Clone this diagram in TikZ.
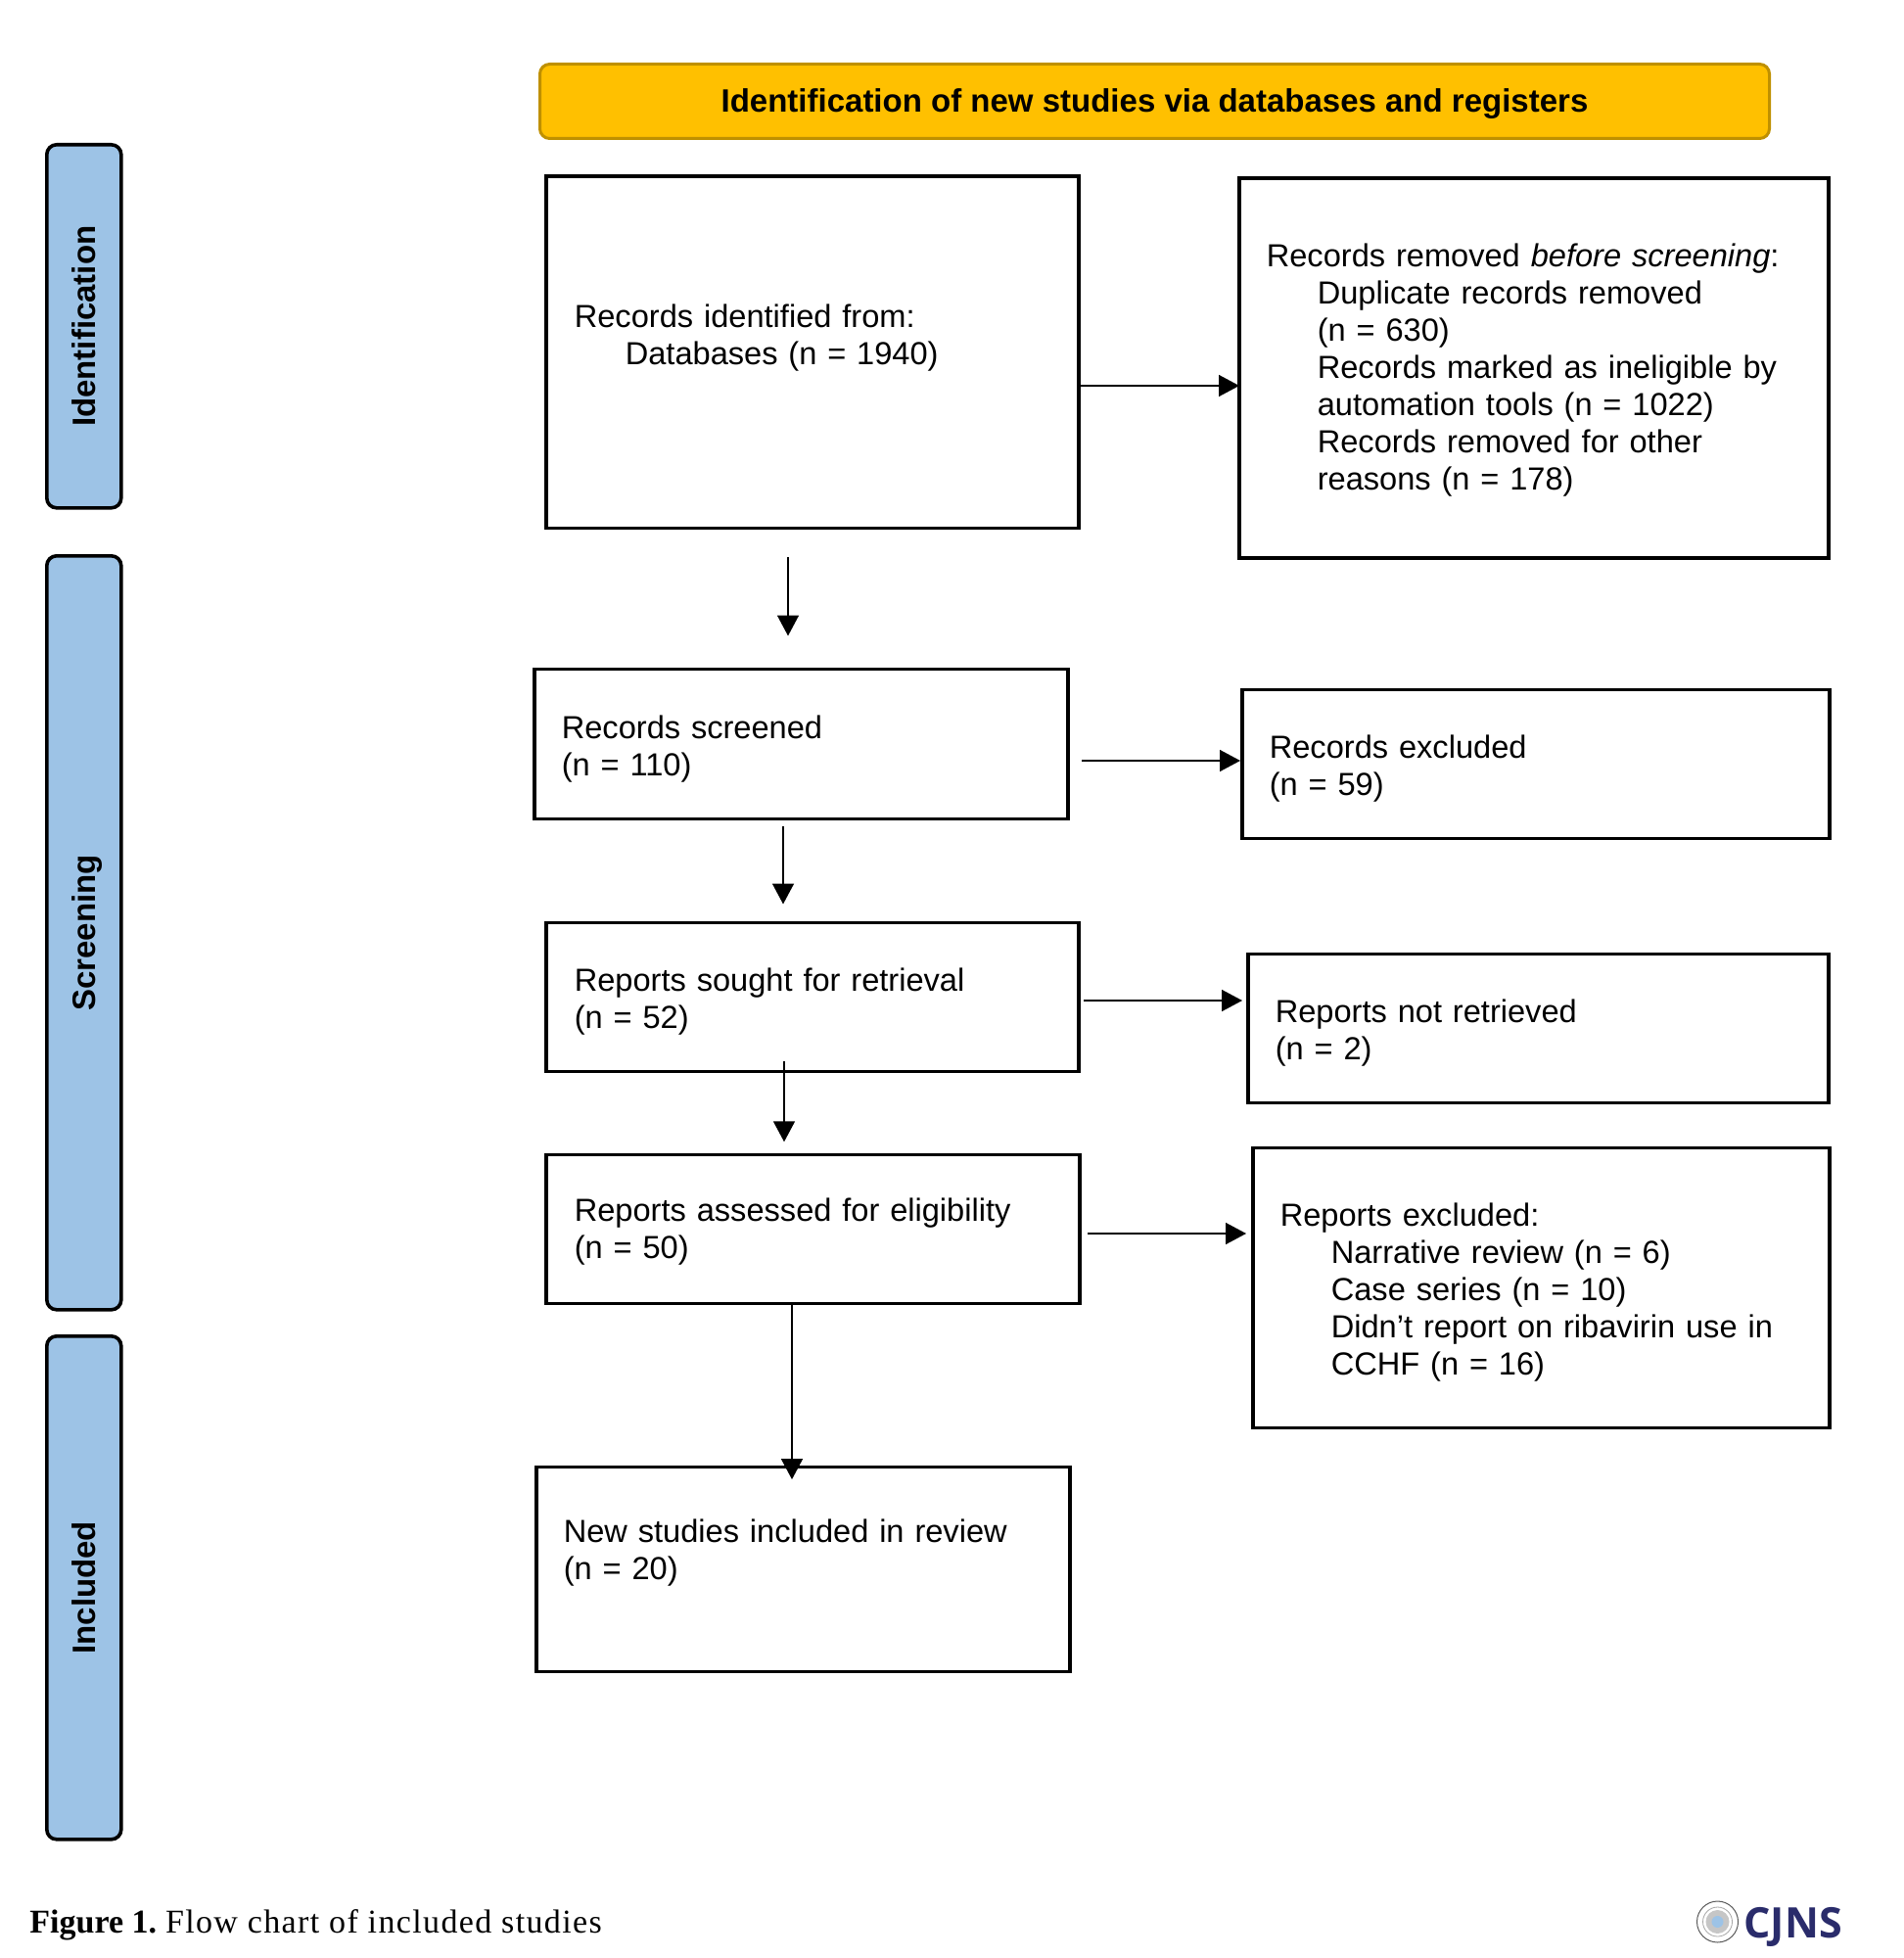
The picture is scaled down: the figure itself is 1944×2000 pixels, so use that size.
\documentclass[tikz,border=0pt]{standalone}
\usepackage{fontspec}
\setmainfont{Liberation Sans}
\newfontfamily\capfont[LetterSpace=4]{Liberation Serif}
\newfontfamily\logofont{Open Sans}
\usetikzlibrary{positioning, arrows.meta}
\definecolor{headfill}{HTML}{FFC000}
\definecolor{headline}{HTML}{BF9000}
\definecolor{sidefill}{HTML}{9DC3E6}
\definecolor{cjnsblue}{HTML}{2A2C6B}
\newcommand{\ind}{\hspace*{26pt}}
\tikzset{
  >={Triangle[length=10.5pt, width=11pt]},
  flow/.style={->, line width=.8pt}, % thin connector with a solid head
  recbox/.style={draw, line width=1.8pt, align=left, anchor=north west, inner sep=0pt, inner xsep=14pt,
    font=\fontsize{16.3}{19}\selectfont, execute at end node={\vspace{-2.5pt}}},
  sidebox/.style={draw, line width=1.8pt, rounded corners=5pt, fill=sidefill, anchor=north west, inner sep=0pt},
  sidetext/.style={rotate=90, text height=11.5pt, text depth=0pt, inner sep=0pt, font=\fontsize{16.5}{18}\selectfont\bfseries},
}

\begin{document}
\begin{tikzpicture}[x=.5pt, y=-.5pt]
      \useasboundingbox (0,0) rectangle (1944,2000);

      \node[draw=headline, fill=headfill, line width=1.5pt, rounded corners=5pt, anchor=north west, minimum width=628pt, minimum height=38pt, inner sep=0pt, font=\fontsize{16.5}{19}\selectfont\bfseries] (head) at (550,64) {\raisebox{-5.75pt}[0pt][0pt]{Identification of new studies via databases and registers}};

      \node[sidebox, minimum width=38pt, minimum height=185.5pt] (sideid) at (46,146) {};
      \node[sidebox, minimum width=38pt, minimum height=385pt] (sidescr) at (46,566) {};
      \node[sidebox, minimum width=38pt, minimum height=257pt] (sideinc) at (46,1363) {};
      \node[sidetext] at (sideid) {Identification};
      \node[sidetext] at (sidescr) {Screening};
      \node[sidetext] at (sideinc) {Included};

      \node[recbox, minimum width=272pt, minimum height=179.5pt, text width=243pt] (idbox) at (556,178.5) {Records identified from:\\ \ind Databases (n = 1940)\vspace{17.5pt}};
      \node[recbox, minimum width=301pt, minimum height=194pt, text width=273pt] (removed) at (1264,180) {Records removed \emph{before screening}:\\ \ind Duplicate records removed\\ \ind (n = 630)\\ \ind Records marked as ineligible by\\ \ind automation tools (n = 1022)\\ \ind Records removed for other\\ \ind reasons (n = 178)};
      \node[recbox, minimum width=272.5pt, minimum height=76.5pt, text width=244.5pt] (screened) at (544,681.5) {Records screened\\ (n = 110)\vspace{-2.5pt}};
      \node[recbox, minimum width=300pt, minimum height=76pt, text width=272pt] (excluded) at (1267,702.5) {Records excluded\\ (n = 59)\vspace{-2.5pt}};
      \node[recbox, minimum width=272pt, minimum height=76pt, text width=243pt] (sought) at (556,940.5) {Reports sought for retrieval\\ (n = 52)\vspace{-2pt}};
      \node[recbox, minimum width=296.5pt, minimum height=76pt, text width=268.5pt] (notretr) at (1273,972.5) {Reports not retrieved\\ (n = 2)\vspace{-2pt}};
      \node[recbox, minimum width=272.5pt, minimum height=76pt, text width=243.5pt] (assessed) at (556,1177.5) {Reports assessed for eligibility\\ (n = 50)};
      \node[recbox, minimum width=294.5pt, minimum height=143pt, text width=266.5pt] (repexcl) at (1278,1170.5) {Reports excluded:\\ \ind Narrative review (n = 6)\\ \ind Case series (n = 10)\\ \ind Didn’t report on ribavirin use in\\ \ind CCHF (n = 16)\vspace{-2pt}};
      \node[recbox, minimum width=272.5pt, minimum height=104.5pt, text width=244.5pt] (included) at (546,1496.5) {New studies included in review\\ (n = 20)\vspace{19pt}};

      \coordinate (downa) at (805,0);
      \coordinate (downb) at (800,0);
      \coordinate (downc) at (801,0);
      \coordinate (downd) at (809,0);

      \draw[flow, shorten >=-1pt] (idbox.east |- 0,394) -- (removed.west |- 0,394);
      \draw[flow] (1105,777) -- (excluded.west |- 0,777);
      \draw[flow, shorten >=2pt] (1107,1022) -- (notretr.west |- 0,1022);
      \draw[flow, shorten >=2.5pt] (1111,1260) -- (repexcl.west |- 0,1260);
      \draw[flow, shorten <=14pt, shorten >=16pt] (downa |- idbox.south) -- (downa |- screened.north);
      \draw[flow, shorten <=3pt, shorten >=8.5pt] (downb |- screened.south) -- (downb |- sought.north);
      \draw[flow, shorten <=-6pt, shorten >=5.6pt] (downc |- sought.south) -- (downc |- assessed.north);
      \draw[flow, shorten >=-7.3pt] (downd |- assessed.south) -- (downd |- included.north);

      \node[anchor=base west, inner sep=0pt, font=\capfont\fontsize{17}{19}\selectfont] (caption) at (30,1974) {{\bfseries\addfontfeature{LetterSpace=0}Figure 1.}\hspace{4.5pt}Flow chart of included studies};

      \node[draw=gray!70!black, circle, line width=.5pt, minimum size=21pt, inner sep=0pt] (seal) at (1754.5,1963) {};
      \node[draw=gray!70, circle, line width=.4pt, minimum size=15pt, inner sep=0pt] (sealring) at (seal) {};
      \node[fill=gray!45, circle, minimum size=12pt, inner sep=0pt] (sealcore) at (seal) {};
      \node[fill=sidefill, circle, minimum size=6pt, inner sep=0pt] (sealblue) at (seal) {};
      \node[anchor=west, inner sep=0pt, text=cjnsblue, font=\logofont\fontsize{21.5}{22}\selectfont\bfseries] (cjns) at (1781,1968) {CJNS};
    \end{tikzpicture}
\end{document}
